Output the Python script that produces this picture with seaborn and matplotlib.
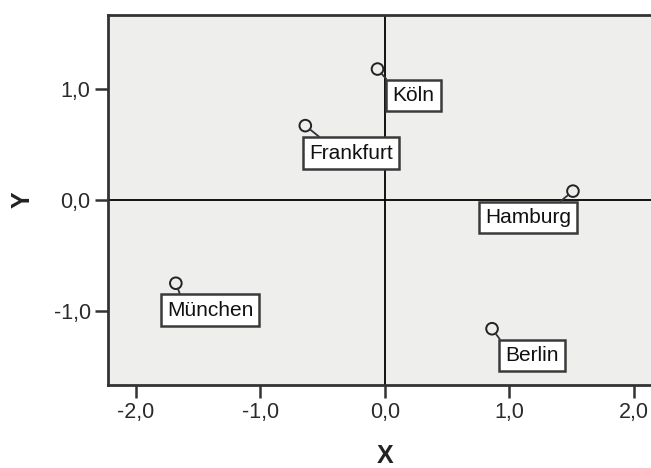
import numpy as np
import pandas as pd
import seaborn as sns
import matplotlib.pyplot as plt
from matplotlib.ticker import FixedLocator, FixedFormatter

# data
cities = ["Köln", "Frankfurt", "Hamburg", "München", "Berlin"]
x_vals = [-0.06, -0.64, 1.51, -1.68, 0.86]
y_vals = [1.18, 0.67, 0.08, -0.75, -1.16]
tick_vals = [-2.0, -1.0, 0.0, 1.0, 2.0]
tick_labels = ["-2,0", "-1,0", "0,0", "1,0", "2,0"]
ytick_vals = [-1.0, 0.0, 1.0]
ytick_labels = ["-1,0", "0,0", "1,0"]

# label offsets (pixels) and where the leader line leaves the box
label_offsets = [(15, -26.5), (4, -27.5), (-88, -26.5), (-9, -27), (13, -27)]
line_relpos = [(0.0, 1.0), (0.22, 1.0), (0.78, 1.0), (0.18, 1.0), (0.0, 1.0)]

df = pd.DataFrame({"city": cities, "X": x_vals, "Y": y_vals})

sns.set_style("white")
plt.rcParams["font.family"] = ["Liberation Sans", "DejaVu Sans"]

fig = plt.figure(figsize=(6.51, 4.68), dpi=100)
ax = fig.add_axes([108 / 651, 1 - 385 / 468, 1 - 108 / 651, (385 - 15) / 468])
ax.set_facecolor("#eeefed")

ax.axhline(0, color="black", lw=1.3, zorder=1)
ax.axvline(0, color="black", lw=1.3, zorder=1)

sns.scatterplot(data=df, x="X", y="Y", ax=ax, s=70, facecolors="none",
                edgecolor="#222222", linewidth=1.4, zorder=3)

for i, row in df.iterrows():
    dx, dy = label_offsets[i]
    ax.annotate(row["city"], xy=(row["X"], row["Y"]),
                xytext=(dx * 0.72, dy * 0.72), textcoords="offset points",
                ha="left", va="center", fontsize=15, color="#111111",
                bbox=dict(boxstyle="square,pad=0.3", fc="white", ec="#3a3a3a", lw=1.8),
                arrowprops=dict(arrowstyle="-", color="#333333", lw=1.3,
                                relpos=line_relpos[i], shrinkA=0, shrinkB=4),
                zorder=4)

ax.set_xlim(-2.225, 2.137)
ax.set_ylim(-1.667, 1.667)

ax.xaxis.set_major_locator(FixedLocator(tick_vals))
ax.xaxis.set_major_formatter(FixedFormatter(tick_labels))
ax.yaxis.set_major_locator(FixedLocator(ytick_vals))
ax.yaxis.set_major_formatter(FixedFormatter(ytick_labels))
ax.tick_params(axis="both", which="major", length=9.5, width=1.8, color="#333333",
               labelsize=15.5, labelcolor="#2a2a2a", pad=3, left=True, bottom=True)

for side in ["left", "bottom", "top"]:
    ax.spines[side].set_color("#333333")
    ax.spines[side].set_linewidth(2.0)
ax.spines["right"].set_visible(False)

ax.set_xlabel("X", fontsize=18, fontweight="bold", color="#222222")
ax.set_ylabel("Y", fontsize=18, fontweight="bold", color="#222222")
ax.xaxis.label.set_va("center")
ax.yaxis.label.set_va("center")
ax.xaxis.set_label_coords((385 - 108) / 543, -(456 - 385) / 370)
ax.yaxis.set_label_coords(-(108 - 23) / 543, 0.5)

fig.savefig("out.png", dpi=100, facecolor="white")
